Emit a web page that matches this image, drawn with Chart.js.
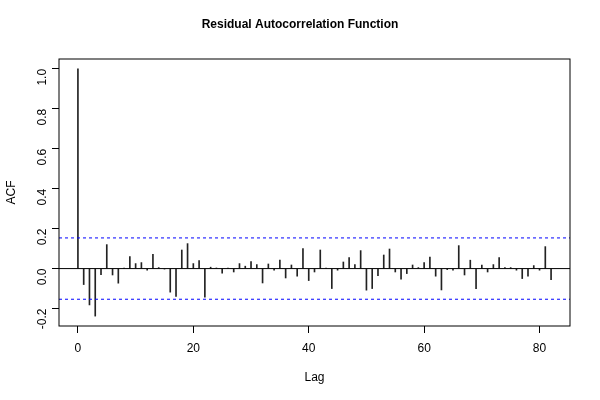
<!DOCTYPE html>
<html lang="en">
  <head>
    <meta charset="UTF-8" />
    <title>Residual Autocorrelation Function</title>
    <script src="https://cdn.jsdelivr.net/npm/chart.js"></script>
    <style>
      html, body { margin: 0; padding: 0; background: #fff; }
      #wrap { width: 600px; height: 400px; }
    </style>
  </head>
  <body>
    <div id="wrap"><canvas id="acfChart" width="600" height="400"></canvas></div>
  </body>
  <script>
    // lags and residual acf values
    const lags = [
      0, 1, 2, 3, 4, 5, 6, 7, 8, 9, 10, 11, 12, 13, 14, 15, 16, 17, 18, 19,
      20, 21, 22, 23, 24, 25, 26, 27, 28, 29, 30, 31, 32, 33, 34, 35, 36, 37, 38, 39,
      40, 41, 42, 43, 44, 45, 46, 47, 48, 49, 50, 51, 52, 53, 54, 55, 56, 57, 58, 59,
      60, 61, 62, 63, 64, 65, 66, 67, 68, 69, 70, 71, 72, 73, 74, 75, 76, 77, 78, 79,
      80, 81, 82,
    ];
    const acfValues = [
      1.0, -0.08, -0.182, -0.238, -0.03, 0.12, -0.032, -0.073, 0.003, 0.06,
      0.025, 0.03, -0.008, 0.072, 0.005, -0.002, -0.118, -0.14, 0.093, 0.125,
      0.025, 0.04, -0.143, 0.007, 0.003, -0.023, 0.003, -0.017, 0.025, 0.012,
      0.035, 0.02, -0.072, 0.023, -0.008, 0.042, -0.047, 0.018, -0.038, 0.1,
      -0.06, -0.017, 0.093, 0.002, -0.1, -0.008, 0.033, 0.055, 0.02, 0.09,
      -0.108, -0.1, -0.035, 0.068, 0.098, -0.017, -0.053, -0.025, 0.018, 0.005,
      0.03, 0.058, -0.038, -0.107, -0.005, -0.008, 0.115, -0.032, 0.042, -0.1,
      0.018, -0.017, 0.02, 0.055, 0.005, 0.005, -0.008, -0.05, -0.038, 0.015,
      -0.008, 0.11, -0.055,
    ];
    const ciLimit = 0.1535; // blue dashed bounds
    const xTicks = [0, 20, 40, 60, 80];
    const yTicks = [-0.2, 0.0, 0.2, 0.4, 0.6, 0.8, 1.0];

    // R style 4% axis extension
    const lagSpan = lags[lags.length - 1] - lags[0];
    const xMin = lags[0] - 0.04 * lagSpan;
    const xMax = lags[lags.length - 1] + 0.04 * lagSpan;
    const yLo = Math.min(...acfValues, -ciLimit);
    const yHi = Math.max(...acfValues, ciLimit);
    const yMin = yLo - 0.04 * (yHi - yLo);
    const yMax = yHi + 0.04 * (yHi - yLo);

    const font = "'Liberation Sans', Arial, sans-serif";

    // box around the plot region
    const boxPlugin = {
      id: "box",
      afterDraw(chart) {
        const { ctx, chartArea: a } = chart;
        ctx.save();
        ctx.strokeStyle = "#000";
        ctx.lineWidth = 1;
        ctx.strokeRect(a.left, a.top, a.right - a.left, a.bottom - a.top);
        ctx.restore();
      },
    };

    const hline = (y) => [
      { x: xMin, y: y },
      { x: xMax, y: y },
    ];

    const ctx = document.getElementById("acfChart").getContext("2d");
    new Chart(ctx, {
      type: "bar",
      data: {
        datasets: [
          {
            type: "line",
            data: hline(0),
            borderColor: "#000",
            borderWidth: 1,
            pointRadius: 0,
          },
          {
            type: "line",
            data: hline(ciLimit),
            borderColor: "#0000ff",
            borderWidth: 1,
            borderDash: [3, 3],
            pointRadius: 0,
          },
          {
            type: "line",
            data: hline(-ciLimit),
            borderColor: "#0000ff",
            borderWidth: 1,
            borderDash: [3, 3],
            pointRadius: 0,
          },
          {
            data: lags.map((l, i) => ({ x: l, y: acfValues[i] })),
            backgroundColor: "#222",
            barThickness: 1,
            grouped: false,
          },
        ],
      },
      options: {
        responsive: false,
        animation: false,
        devicePixelRatio: 1,
        layout: { padding: 0 },
        plugins: {
          legend: { display: false },
          tooltip: { enabled: false },
          title: {
            display: true,
            text: "Residual Autocorrelation Function",
            color: "#000",
            font: { family: font, size: 12, weight: "bold", lineHeight: 1.2 },
            padding: { top: 17, bottom: 27.6 },
          },
        },
        scales: {
          x: {
            type: "linear",
            min: xMin,
            max: xMax,
            offset: false,
            afterBuildTicks: (s) => {
              s.ticks = xTicks.map((v) => ({ value: v }));
            },
            afterFit: (s) => {
              s.height = 74;
            },
            grid: {
              offset: false,
              drawOnChartArea: false,
              drawTicks: true,
              tickLength: 7,
              color: "#000",
            },
            border: { display: false },
            ticks: {
              color: "#000",
              font: { family: font, size: 12 },
              padding: 8,
              maxRotation: 0,
              callback: (v) => String(v),
            },
            title: {
              display: true,
              text: "Lag",
              color: "#000",
              font: { family: font, size: 12 },
              padding: { top: 15, bottom: 15 },
            },
          },
          y: {
            min: yMin,
            max: yMax,
            afterBuildTicks: (s) => {
              s.ticks = yTicks.map((v) => ({ value: v }));
            },
            afterFit: (s) => {
              s.width = 59;
            },
            grid: {
              offset: false,
              drawOnChartArea: false,
              drawTicks: true,
              tickLength: 7,
              color: "#000",
            },
            border: { display: false },
            ticks: {
              color: "#000",
              font: { family: font, size: 12 },
              padding: 9,
              minRotation: 90,
              maxRotation: 90,
              autoSkip: false,
              callback: (v) => v.toFixed(1),
            },
            title: {
              display: true,
              text: "ACF",
              color: "#000",
              font: { family: font, size: 12 },
              padding: { top: 4, bottom: 4 },
            },
          },
          // empty right margin so the title centres on the whole canvas
          yRight: {
            position: "right",
            display: true,
            grid: { display: false },
            border: { display: false },
            ticks: { display: false },
            afterFit: (s) => {
              s.width = 30;
            },
          },
        },
      },
      plugins: [boxPlugin],
    });
  </script>
</html>
